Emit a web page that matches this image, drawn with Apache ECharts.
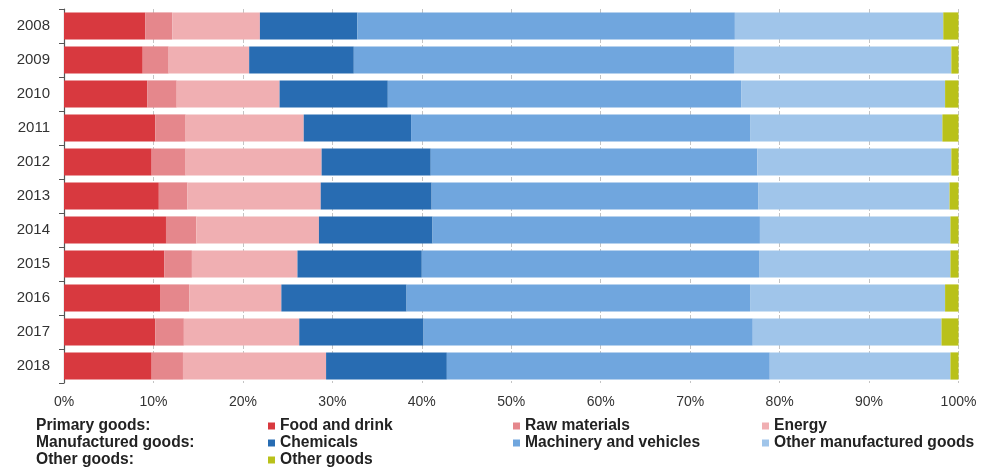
<!DOCTYPE html>
<html>
<head>
<meta charset="utf-8">
<script src="https://cdn.jsdelivr.net/npm/echarts@6/dist/echarts.min.js"></script>
<style>
  html, body { margin: 0; padding: 0; background: #fff; }
  #chart { width: 982px; height: 469px; }
</style>
</head>
<body>
<div id="chart"></div>
<script>
// Share of each product group in trade, by year (%)
const years = ['2008','2009','2010','2011','2012','2013','2014','2015','2016','2017','2018'];
const foodAndDrink   = [9.1, 8.8, 9.3, 10.2, 9.8, 10.6, 11.4, 11.2, 10.8, 10.2, 9.8];
const rawMaterials   = [3.0, 2.9, 3.3, 3.4, 3.8, 3.2, 3.4, 3.1, 3.2, 3.2, 3.5];
const energy         = [9.8, 9.0, 11.5, 13.2, 15.2, 14.9, 13.7, 11.8, 10.3, 12.9, 16.0];
const chemicals      = [10.9, 11.7, 12.1, 12.0, 12.2, 12.4, 12.7, 13.9, 14.0, 13.9, 13.5];
const machinery      = [42.2, 42.5, 39.5, 37.9, 36.5, 36.5, 36.6, 37.7, 38.4, 36.8, 36.1];
const otherManuf     = [23.3, 24.3, 22.8, 21.5, 21.7, 21.4, 21.3, 21.4, 21.8, 21.1, 20.2];
const otherGoods     = [1.7, 0.8, 1.5, 1.8, 0.8, 1.0, 0.9, 0.9, 1.5, 1.9, 0.9];
const xTicks = [0, 10, 20, 30, 40, 50, 60, 70, 80, 90, 100];
const groupHeaders = ['Primary goods:', 'Manufactured goods:', 'Other goods:'];

const seriesDefs = [
  { name: 'Food and drink', data: foodAndDrink, color: '#d8393f' },
  { name: 'Raw materials', data: rawMaterials, color: '#e5878c' },
  { name: 'Energy', data: energy, color: '#f0afb2' },
  { name: 'Chemicals', data: chemicals, color: '#286cb2' },
  { name: 'Machinery and vehicles', data: machinery, color: '#70a6de' },
  { name: 'Other manufactured goods', data: otherManuf, color: '#a0c5ea' },
  { name: 'Other goods', data: otherGoods, color: '#b9c11a' }
];

const font = 'Liberation Sans, Arial, sans-serif';
const legendText = { fontFamily: font, fontSize: 15.6, fontWeight: 'bold', color: '#222', lineHeight: 16 };
const legendBase = {
  orient: 'vertical', itemWidth: 7, itemHeight: 7, itemGap: 1,
  icon: 'rect', selectedMode: false, padding: 0, textStyle: legendText
};

const chart = echarts.init(document.getElementById('chart'));
chart.setOption({
  animation: false,
  grid: { left: 64, right: 23.5, top: 9, bottom: 86 },
  xAxis: {
    type: 'value', min: xTicks[0], max: xTicks[xTicks.length - 1], interval: 10,
    axisLine: { show: false }, axisTick: { show: false },
    axisLabel: { formatter: '{value}%', fontFamily: font, fontSize: 14, color: '#333', margin: 12 },
    splitLine: { show: true, lineStyle: { type: 'dashed', color: '#c4c4c4', width: 1 } }
  },
  yAxis: {
    type: 'category', data: years, inverse: true,
    axisLine: { show: true, lineStyle: { color: '#555', width: 1.2 } },
    axisTick: { show: true, length: 5, lineStyle: { color: '#555' } },
    axisLabel: { fontFamily: font, fontSize: 15, color: '#333', margin: 14 }
  },
  legend: [
    Object.assign({}, legendBase, { left: 268, top: 418, data: ['Food and drink', 'Chemicals', 'Other goods'] }),
    Object.assign({}, legendBase, { left: 513, top: 418, data: ['Raw materials', 'Machinery and vehicles'] }),
    Object.assign({}, legendBase, { left: 762, top: 418, data: ['Energy', 'Other manufactured goods'] })
  ],
  graphic: groupHeaders.map((t, i) => ({
    type: 'text', left: 36, top: 418 + i * 17,
    style: { text: t, fontFamily: font, fontSize: 15.6, fontWeight: 'bold', fill: '#222' }
  })),
  series: seriesDefs.map(s => ({
    name: s.name, type: 'bar', stack: 'total', data: s.data,
    barCategoryGap: '20%',
    itemStyle: { color: s.color }
  }))
});
</script>
</body>
</html>
